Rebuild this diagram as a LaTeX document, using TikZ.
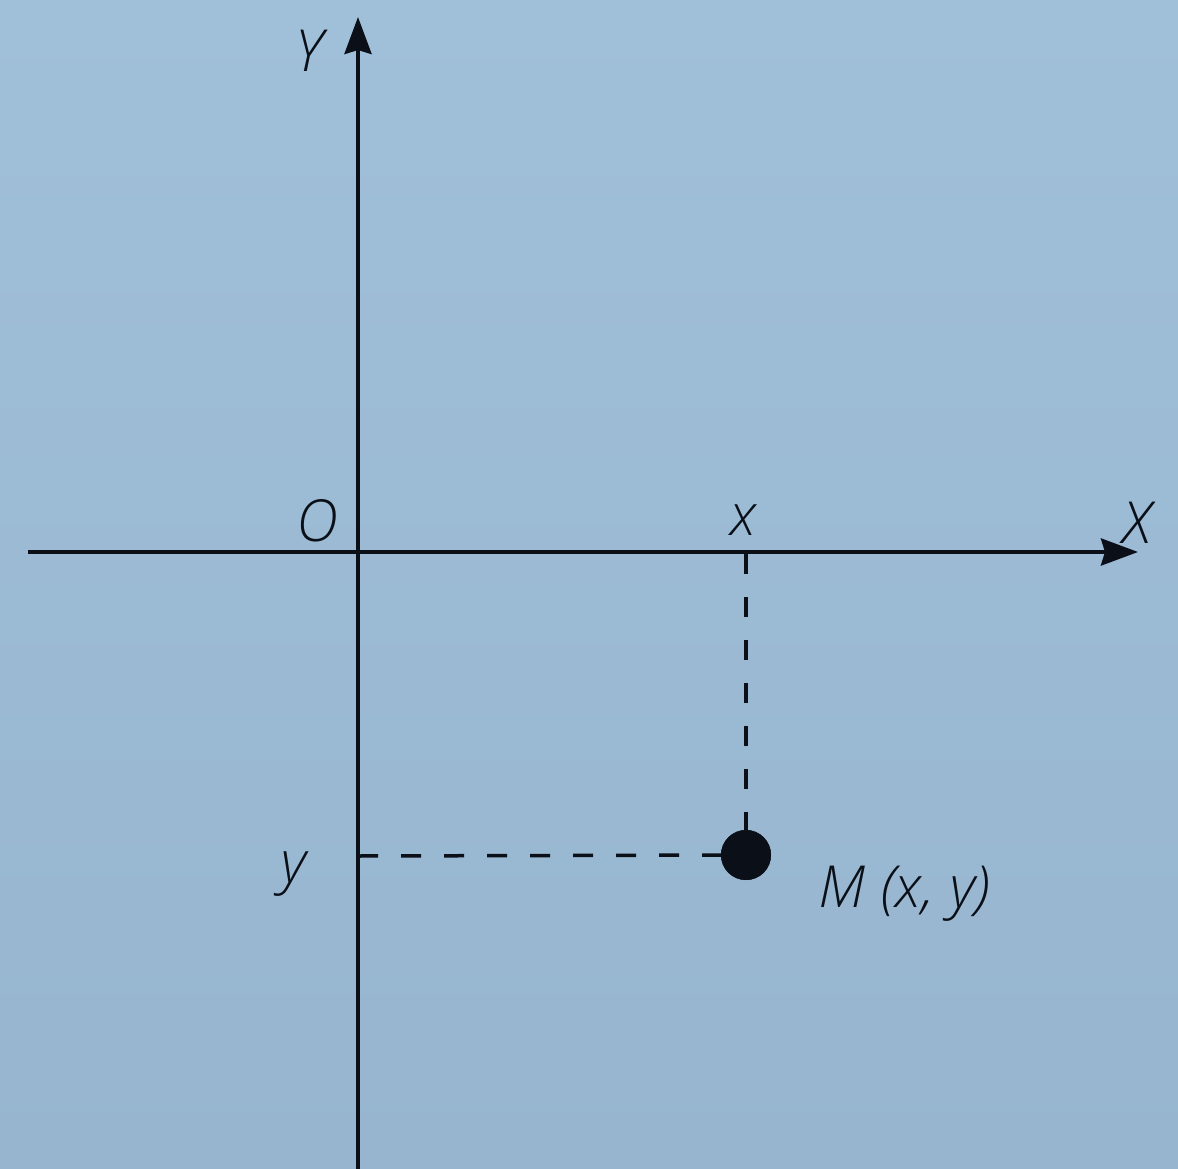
\documentclass[tikz,border=0pt]{standalone}
\usepackage{fontspec}
\setmainfont{Open Sans Light}[ItalicFont={Open Sans Light Italic}]
\usetikzlibrary{arrows.meta}
\definecolor{bgtop}{HTML}{A0BFD8}
\definecolor{bgbot}{HTML}{97B5CE}
\definecolor{ink}{HTML}{0A0F18}
\tikzset{
  axisline/.style={line width=4pt, draw=ink, -{Stealth[length=37pt,width=27pt,inset=4pt]}},
  guide/.style={line width=3.5pt, draw=ink, dash pattern=on 20pt off 23pt},
  lab/.style={inner sep=0pt, anchor=base, text=ink, font=\fontsize{58}{62}\selectfont\itshape},
}
\begin{document}
\begin{tikzpicture}[x=1pt,y=-1pt]
  \shade[top color=bgtop, bottom color=bgbot] (0,0) rectangle (1178,1169);
  \useasboundingbox (0,0) rectangle (1178,1169);
  % axes
  \coordinate (Ybot) at (358,1169);
  \coordinate (Ytip) at (358,17);
  \coordinate (Xleft) at (28,552);
  \coordinate (Xtip) at (1138,552);
  \coordinate (xfoot) at (746,554);
  \coordinate (yfoot) at (358,856);
  \draw[axisline] (Ybot) -- (Ytip);
  \draw[axisline] (Xleft) -- (Xtip);
  % point
  \node[circle, fill=ink, minimum size=50pt, inner sep=0pt] (dot) at (746,855) {};
  \draw[guide] (xfoot) -- (dot.center);
  \draw[guide] (yfoot) -- (dot.center);
  \fill[ink] (dot) circle (25pt);
  % labels
  \node[lab] (Ylab) at (309,72) {Y};
  \node[lab] (Xlab) at (1137,543) {X};
  \node[lab] (Olab) at (317,541) {O};
  \node[lab] (xlab) at (744,535) {x};
  \node[lab] (ylab) at (294,882) {y};
  \node[lab, anchor=base west] (Mlab) at (818,907) {M (x, y)};
\end{tikzpicture}
\end{document}
